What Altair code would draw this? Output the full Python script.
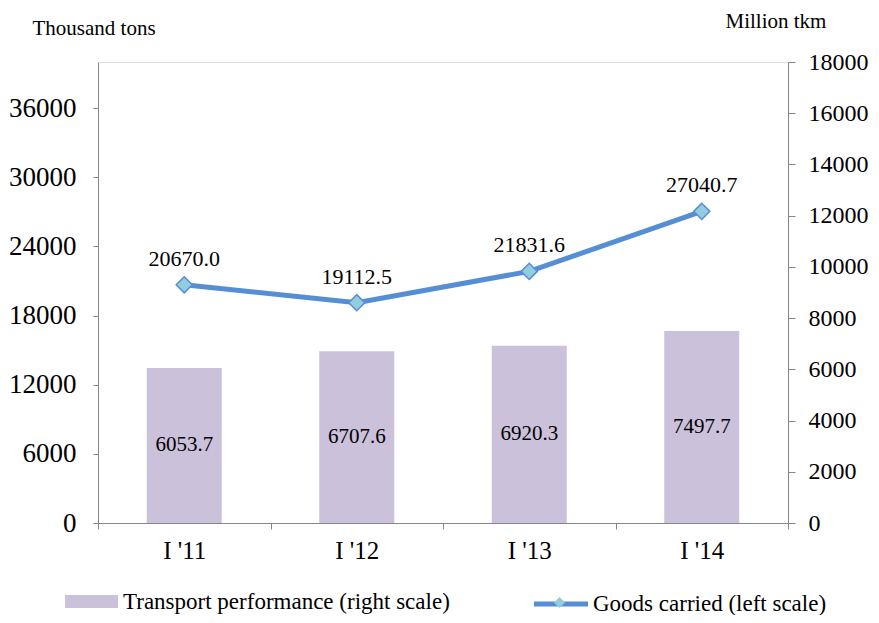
import altair as alt
import pandas as pd

periods = ["I '11", "I '12", "I '13", "I '14"]
transport = [6053.7, 6707.6, 6920.3, 7497.7]
goods = [20670.0, 19112.5, 21831.6, 27040.7]
series_names = ["Transport performance (right scale)", "Goods carried (left scale)"]

left_ticks = [0, 6000, 12000, 18000, 24000, 30000, 36000]
right_ticks = [0, 2000, 4000, 6000, 8000, 10000, 12000, 14000, 16000, 18000]

df = pd.DataFrame({"period": periods, "transport": transport, "goods": goods})
df["transport_lbl"] = [f"{v:.1f}" for v in transport]
df["goods_lbl"] = [f"{v:.1f}" for v in goods]
df["bar_series"] = series_names[0]
df["line_series"] = series_names[1]
df["marker_series"] = " "

FONT = "Liberation Serif"
AXIS_GREY = "#868686"
BAR_COLOR = "#CCC1DA"
LINE_COLOR = "#558ED5"
DIAMOND_FILL = "#93CDDD"

x_enc = alt.X(
    "period:N", sort=periods,
    scale=alt.Scale(paddingInner=0, paddingOuter=0),
    axis=alt.Axis(title=None, tickBand="extent", labelAngle=0, labelFontSize=25,
                  labelPadding=9, tickSize=6, domainColor=AXIS_GREY, tickColor=AXIS_GREY,
                  labelColor="black", labelFont=FONT, grid=False),
)


def y_right(field):
    return alt.Y(
        field, type="quantitative",
        scale=alt.Scale(domain=[0, 18000], nice=False, zero=True),
        axis=alt.Axis(orient="right", values=right_ticks, format="d", title="Million tkm",
                      grid=False, labelFontSize=24, labelPadding=13, tickSize=7,
                      labelFont=FONT, domainColor=AXIS_GREY, tickColor=AXIS_GREY,
                      labelColor="black", titleAngle=0, titleX=-63, titleY=-41,
                      titleAlign="left", titleBaseline="middle", titleFont=FONT,
                      titleFontSize=21, titleFontWeight="normal", titleColor="black"),
    )


def y_left(field):
    return alt.Y(
        field, type="quantitative",
        scale=alt.Scale(domain=[0, 40000], nice=False, zero=True),
        axis=alt.Axis(orient="left", values=left_ticks, format="d", title="Thousand tons",
                      grid=False, labelFontSize=27, labelPadding=17, tickSize=5,
                      labelFont=FONT, domainColor=AXIS_GREY, tickColor=AXIS_GREY,
                      labelColor="black", titleAngle=0, titleX=-66, titleY=-34,
                      titleAlign="left", titleBaseline="middle", titleFont=FONT,
                      titleFontSize=21, titleFontWeight="normal", titleColor="black"),
    )


base = alt.Chart(df)

bars = base.mark_bar(size=75).encode(
    x=x_enc,
    y=y_right("transport"),
    fill=alt.Fill(
        "bar_series:N",
        scale=alt.Scale(domain=[series_names[0]], range=[BAR_COLOR]),
        legend=alt.Legend(
            orient="none", legendX=-20, legendY=526, title=None,
            symbolType="M-2,-0.5L2,-0.5L2,0.5L-2,0.5Z", symbolSize=702,
            symbolStrokeWidth=0, labelFont=FONT, labelFontSize=23, labelColor="black",
            labelOffset=18, labelLimit=500,
        ),
    ),
)

bar_labels = base.transform_calculate(mid="datum.transport / 2").mark_text(
    font=FONT, fontSize=21, color="black", baseline="middle"
).encode(x=x_enc, y=y_right("mid"), text="transport_lbl:N")

right = alt.layer(bars, bar_labels)

line = base.mark_line(strokeWidth=5).encode(
    x=x_enc,
    y=y_left("goods"),
    stroke=alt.Stroke(
        "line_series:N",
        scale=alt.Scale(domain=[series_names[1]], range=[LINE_COLOR]),
        legend=alt.Legend(
            orient="none", legendX=447, legendY=526, title=None,
            symbolType="M-2,0L2,0", symbolSize=729, symbolStrokeWidth=5,
            labelFont=FONT, labelFontSize=23, labelColor="black", labelOffset=16,
            labelLimit=500,
        ),
    ),
)

points = base.mark_point(
    filled=True, fill=DIAMOND_FILL, stroke=LINE_COLOR,
    strokeWidth=1.5, size=260, opacity=1
).encode(
    x=x_enc,
    y=y_left("goods"),
    shape=alt.Shape(
        "marker_series:N",
        scale=alt.Scale(domain=[" "], range=["diamond"]),
        legend=alt.Legend(
            orient="none", legendX=450, legendY=529, title=None,
            symbolSize=120, symbolFillColor=DIAMOND_FILL, symbolStrokeColor=LINE_COLOR,
            symbolStrokeWidth=1, labelFont=FONT, labelFontSize=23, labelOpacity=0,
        ),
    ),
)

line_labels = base.mark_text(
    font=FONT, fontSize=22, color="black", baseline="middle", dy=-26
).encode(x=x_enc, y=y_left("goods"), text="goods_lbl:N")

left = alt.layer(line, points, line_labels)

chart = alt.layer(right, left).resolve_scale(
    y="independent", fill="independent", stroke="independent", shape="independent"
).properties(
    width=690, height=461,
    autosize=alt.AutoSizeParams(type="none"),
    padding={"left": 90, "top": 54, "right": 83, "bottom": 92},
).configure_view(stroke=None).configure(background="white")

chart.save("out.html", embed_options={"renderer": "svg", "actions": False})
